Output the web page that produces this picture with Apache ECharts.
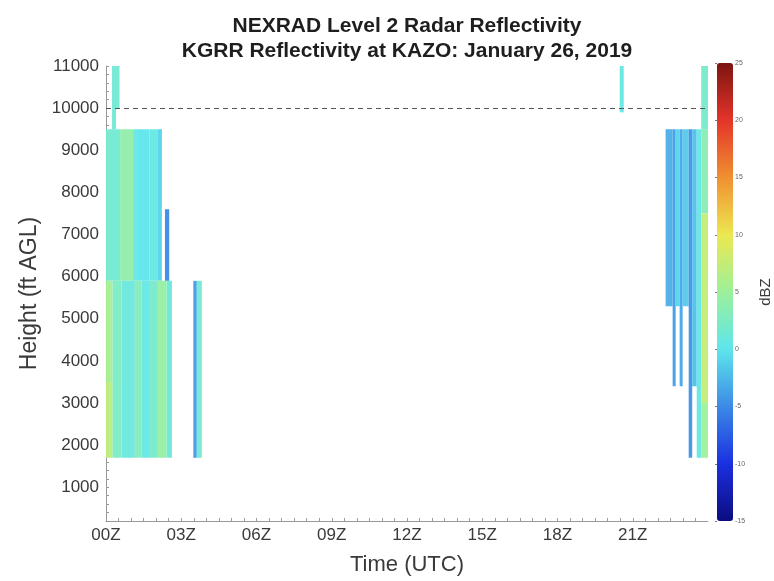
<!DOCTYPE html>
<html>
<head>
<meta charset="utf-8">
<script src="https://cdn.jsdelivr.net/npm/echarts@6/dist/echarts.min.js"></script>
<style>html,body{margin:0;padding:0;background:#fff}#c{width:774px;height:581px}</style>
</head>
<body>
<div id="c"></div>
<script>
// [start hour UTC, end hour UTC, bottom height ft, top height ft, reflectivity dBZ]
const earlyUpperCells = [
  [0.24, 0.54, 10000, 11000, 1.5],
  [0.24, 0.40, 9500, 10000, 1.5],
  [0.00, 0.16, 5900, 9500, 2],
  [0.16, 0.56, 5900, 9500, 1.5],
  [0.56, 1.08, 5900, 9500, 4],
  [1.08, 1.24, 5900, 9500, 0.5],
  [1.24, 1.74, 5900, 9500, 0],
  [1.74, 2.07, 5900, 9500, 0.5],
  [2.07, 2.23, 5900, 9500, -1],
  [2.35, 2.52, 5900, 7600, -5]
];
const earlyLowerCells = [
  [0.00, 0.26, 3500, 5900, 5.5],
  [0.00, 0.26, 1700, 3500, 7],
  [0.26, 0.62, 1700, 5900, 2.5],
  [0.62, 1.15, 1700, 5900, 1],
  [1.15, 1.42, 1700, 5900, 3],
  [1.42, 1.75, 1700, 5900, 0.5],
  [1.75, 2.07, 1700, 5900, 2],
  [2.07, 2.42, 1700, 5900, 4.5],
  [2.42, 2.63, 1700, 5900, 1],
  [3.48, 3.62, 1700, 5900, -4],
  [3.62, 3.82, 1700, 5900, 1.5]
];
const lateCells = [
  [20.48, 20.64, 9900, 11000, 0.5],
  [22.31, 22.59, 5300, 9500, -3],
  [22.59, 22.71, 3400, 9500, -4],
  [22.71, 22.87, 5300, 9500, -1],
  [22.87, 22.99, 3400, 9500, -3.5],
  [22.99, 23.23, 5300, 9500, -1.5],
  [23.23, 23.37, 1700, 9500, -4.5],
  [23.37, 23.55, 3400, 9500, -2],
  [23.55, 23.73, 1700, 9500, 0.5],
  [23.73, 24.00, 9500, 11000, 2],
  [23.73, 24.00, 7500, 9500, 3.5],
  [23.73, 24.00, 3000, 7500, 7.5],
  [23.73, 24.00, 1700, 3000, 5]
];
const xTickLabels = ['00Z', '03Z', '06Z', '09Z', '12Z', '15Z', '18Z', '21Z'];
const yTickLabels = [1000, 2000, 3000, 4000, 5000, 6000, 7000, 8000, 9000, 10000, 11000];
const colorbarTicks = [-15, -10, -5, 0, 5, 10, 15, 20, 25];
const refLineHeight = 10000;

// muted "jet" colormap as it appears in the reference
const jet = ['#0c0c80', '#1a30e0', '#3c8ae6', '#5ee6ec', '#9cf09a', '#ece850', '#f09030', '#e4342a', '#7c1410'];
const cells = earlyUpperCells.concat(earlyLowerCells, lateCells);

const chart = echarts.init(document.getElementById('c'), null, {renderer: 'canvas'});
const axisGray = '#9a9a9a';
const textCol = '#3a3a3a';
chart.setOption({
  animation: false,
  backgroundColor: '#fff',
  title: {
    text: 'NEXRAD Level 2 Radar Reflectivity\nKGRR Reflectivity at KAZO: January 26, 2019',
    left: 402, top: 9, textAlign: 'center',
    textStyle: {fontFamily: 'Liberation Sans, Arial, sans-serif', fontSize: 21, fontWeight: 'bold', lineHeight: 25, color: '#1e1e1e'}
  },
  grid: [
    {left: 106, top: 66, width: 602, height: 456},
    {left: 717, top: 63, width: 16, height: 458}
  ],
  visualMap: {
    type: 'continuous', min: colorbarTicks[0], max: colorbarTicks[colorbarTicks.length - 1],
    dimension: 4, seriesIndex: 0, show: true, calculable: false, hoverLink: false,
    left: 717, top: 63, itemWidth: 16, itemHeight: 458, padding: 0, text: null,
    inRange: {color: jet}
  },
  xAxis: [{
    type: 'value', min: 0, max: 24, interval: 0.5,
    name: 'Time (UTC)', nameLocation: 'middle', nameGap: 33,
    nameTextStyle: {fontFamily: 'Liberation Sans, Arial, sans-serif', fontSize: 22, color: textCol},
    axisLine: {show: true, lineStyle: {color: axisGray}},
    axisTick: {show: true, inside: true, length: 3, lineStyle: {color: axisGray}},
    axisLabel: {
      interval: 0, margin: 6, color: textCol, fontSize: 17, fontFamily: 'Liberation Sans, Arial, sans-serif',
      showMaxLabel: false,
      formatter: v => (v % 3 === 0 && v / 3 < xTickLabels.length) ? xTickLabels[v / 3] : ''
    },
    splitLine: {show: false}
  }, {
    gridIndex: 1, type: 'value', min: 0, max: 1, show: false
  }],
  yAxis: [{
    type: 'value', min: 200, max: 11000, interval: 200,
    name: 'Height (ft AGL)', nameLocation: 'middle', nameGap: 55,
    nameTextStyle: {fontFamily: 'Liberation Sans, Arial, sans-serif', fontSize: 23, color: textCol},
    axisLine: {show: true, lineStyle: {color: axisGray}},
    axisTick: {show: true, inside: true, length: 3, lineStyle: {color: axisGray}},
    axisLabel: {
      interval: 0, margin: 7, color: textCol, fontSize: 17, fontFamily: 'Liberation Sans, Arial, sans-serif',
      formatter: v => yTickLabels.indexOf(v) >= 0 ? String(v) : ''
    },
    splitLine: {show: false}
  }, {
    gridIndex: 1, type: 'value', position: 'right',
    min: colorbarTicks[0], max: colorbarTicks[colorbarTicks.length - 1], interval: 5,
    name: 'dBZ', nameLocation: 'middle', nameGap: 26, nameRotate: 90,
    nameTextStyle: {fontFamily: 'Liberation Sans, Arial, sans-serif', fontSize: 15, color: textCol},
    axisLine: {show: false},
    axisTick: {show: true, inside: true, length: 2, lineStyle: {color: '#777'}},
    axisLabel: {margin: 3, fontSize: 7, color: '#666', fontFamily: 'Liberation Sans, Arial, sans-serif'},
    splitLine: {show: false}
  }],
  series: [{
    type: 'custom',
    xAxisIndex: 0, yAxisIndex: 0,
    encode: {x: [0, 1], y: [2, 3]},
    data: cells,
    renderItem: function (params, api) {
      const p0 = api.coord([api.value(0), api.value(3)]);
      const p1 = api.coord([api.value(1), api.value(2)]);
      return {
        type: 'rect',
        shape: {x: p0[0], y: p0[1], width: p1[0] - p0[0], height: p1[1] - p0[1]},
        style: {fill: api.visual('color'), opacity: 0.95}
      };
    },
    markLine: {
      silent: true, symbol: 'none', label: {show: false},
      lineStyle: {color: '#555', width: 1, type: [5, 4]},
      data: [{yAxis: refLineHeight}]
    }
  }]
});
</script>
</body>
</html>
